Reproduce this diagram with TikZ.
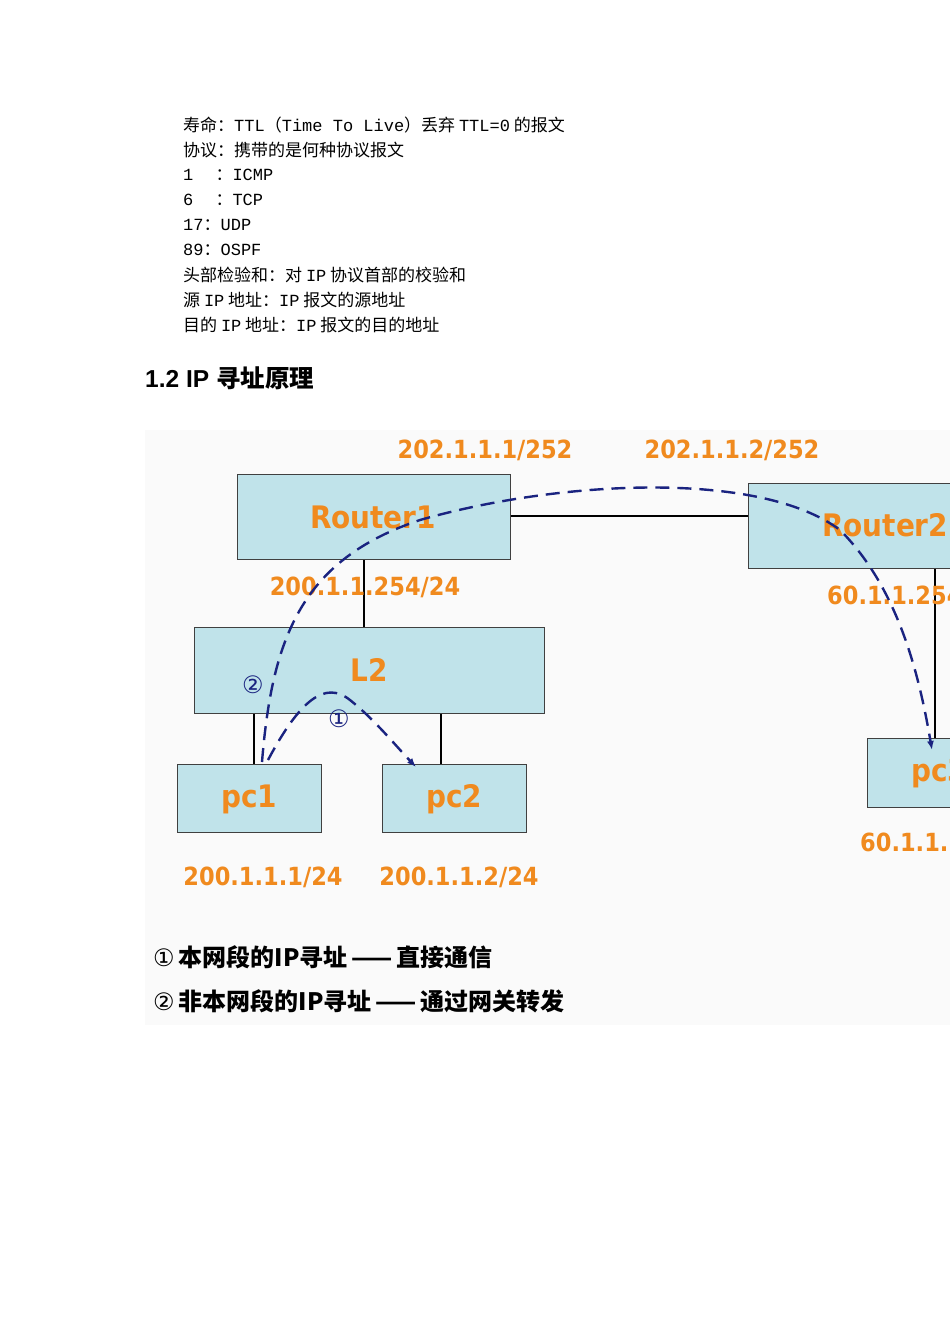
\documentclass[tikz,border=0pt]{standalone}
\usepackage{fontspec}
\usetikzlibrary{arrows.meta}
\setmainfont{Noto Sans CJK SC}
\newfontfamily\cjk{Noto Sans CJK SC}
\newfontfamily\lab{DejaVu Sans Condensed}
\newfontfamily\sym{DejaVu Sans}
\newfontfamily\hd{Liberation Sans}
\newfontfamily\mn{Liberation Mono}
\newcommand{\lt}[1]{{\mn #1}}
\definecolor{boxfill}{HTML}{C0E3EA}
\definecolor{lblor}{HTML}{F08A1E}
\definecolor{navy}{HTML}{1A2380}
\begin{document}
\begin{tikzpicture}[x=1pt,y=-1pt,
  dev/.style={draw=black!75,line width=1pt,fill=boxfill},
  lnk/.style={draw=black,line width=2.2pt},
  ip/.style={text=lblor,font=\lab\bfseries\fontsize{25}{27}\selectfont,inner sep=0pt},
  dname/.style={text=lblor,font=\lab\bfseries\fontsize{31}{33}\selectfont,inner sep=0pt},
  body/.style={anchor=west,inner sep=0pt,font=\cjk\fontsize{17}{19}\selectfont},
  flow/.style={draw=navy,line width=2.4pt,dash pattern=on 14pt off 8pt,-{Latex[length=9pt,width=7pt]}},
  circ/.style={text=navy,font=\sym\fontsize{24}{26}\selectfont,inner sep=0pt}]
\useasboundingbox (0,0) rectangle (950,1344);
\clip (0,0) rectangle (950,1344);
\fill[white] (0,0) rectangle (950,1344);
\fill[black!2] (145,430) rectangle (950,1025);
% body text
\node[body] (t1) at (183,125) {寿命：\lt{TTL}（\lt{Time To Live}）丢弃 \lt{TTL=0} 的报文};
\node[body] (t2) at (183,150) {协议：携带的是何种协议报文};
\node[body] (t3) at (183,175) {\lt{1}\hspace{1.3em}：\lt{ICMP}};
\node[body] (t4) at (183,200) {\lt{6}\hspace{1.3em}：\lt{TCP}};
\node[body] (t5) at (183,225) {\lt{17}：\lt{UDP}};
\node[body] (t6) at (183,250) {\lt{89}：\lt{OSPF}};
\node[body] (t7) at (183,275) {头部检验和：对 \lt{IP} 协议首部的校验和};
\node[body] (t8) at (183,300) {源 \lt{IP} 地址：\lt{IP} 报文的源地址};
\node[body] (t9) at (183,325) {目的 \lt{IP} 地址：\lt{IP} 报文的目的地址};
\node[anchor=west,inner sep=0pt,font=\bfseries\fontsize{24.5}{26}\selectfont] (hd) at (145,378) {\hd 1.2 IP \cjk 寻址原理};
% links
\coordinate (r1e) at (510,516); \coordinate (r2w) at (748,516);
\draw[lnk] (r1e) -- (r2w);
\draw[lnk] (364,559) -- (364,627);
\draw[lnk] (254,713) -- (254,764);
\draw[lnk] (441,713) -- (441,764);
\draw[lnk] (935,568) -- (935,738);
% devices
\path[dev] (237,474) rectangle (510,559);
\path[dev] (748,483) rectangle (960,568);
\path[dev] (194,627) rectangle (544,713);
\path[dev] (177,764) rectangle (321,832);
\path[dev] (382,764) rectangle (526,832);
\path[dev] (867,738) rectangle (960,807);
\node[dname] (r1) at (373,517) {Router1};
\node[dname,anchor=west] (r2) at (822,525) {Router2};
\node[dname] (l2) at (369,670) {L2};
\node[dname] (pc1) at (249,799) {pc1};
\node[dname] (pc2) at (454,799) {pc2};
\node[dname,anchor=west] (pc3) at (911,773) {pc3};
% ip labels
\node[ip] (a1) at (485,450) {202.1.1.1/252};
\node[ip] (a2) at (732,450) {202.1.1.2/252};
\node[ip] (a3) at (365,587) {200.1.1.254/24};
\node[ip,anchor=west] (a4) at (827,596) {60.1.1.254/24};
\node[ip,anchor=west] (a5) at (860,843) {60.1.1.1/24};
\node[ip] (a6) at (263,877) {200.1.1.1/24};
\node[ip] (a7) at (459,877) {200.1.1.2/24};
% flows
\draw[flow] (262,762) .. controls (272,640) and (300,560) .. (420,520)
  .. controls (560,480) and (760,470) .. (840,530)
  .. controls (900,590) and (920,680) .. (932,750);
\draw[flow] (268,760) .. controls (300,700) and (325,680) .. (350,700)
  .. controls (375,720) and (395,745) .. (416,767);
\node[circ] (c2) at (253,685) {②};
\node[circ] (c1) at (339,719) {①};
% legend
\node[anchor=west,inner sep=0pt,font=\cjk\bfseries\fontsize{24}{26}\selectfont] (g1) at (153,957) {{\sym\mdseries ①}\,本网段的IP寻址\,——\,直接通信};
\node[anchor=west,inner sep=0pt,font=\cjk\bfseries\fontsize{24}{26}\selectfont] (g2) at (153,1001) {{\sym\mdseries ②}\,非本网段的IP寻址\,——\,通过网关转发};
\end{tikzpicture}
\end{document}
